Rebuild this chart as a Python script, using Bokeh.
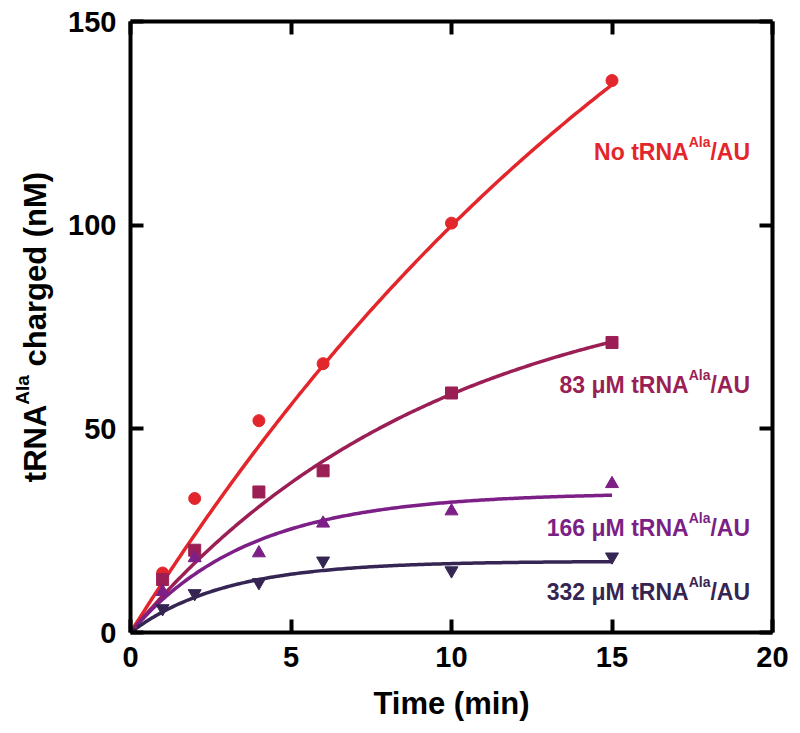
import numpy as np
from bokeh.plotting import figure
from bokeh.layouts import row
from bokeh.models import LinearAxis, FixedTicker, Label, Range1d
from bokeh.embed import file_html
from bokeh.resources import INLINE

# ---- data ----
time_min = [0, 1, 2, 4, 6, 10, 15]
no_trna = [0, 14.6, 32.9, 52.0, 66.0, 100.5, 135.5]
trna_83 = [0, 13.0, 20.2, 34.5, 39.7, 58.8, 71.2]
trna_166 = [0, 10.0, 18.3, 19.5, 26.8, 29.8, 36.5]
trna_332 = [0, 5.9, 9.6, 12.3, 17.6, 15.2, 18.6]

# single-exponential fit parameters (amplitude nM, rate 1/min)
fit_amp = [262.0, 90.0, 34.3, 17.5]
fit_rate = [0.048, 0.105, 0.27, 0.34]
fit_tmax = 15

series_names = ["No tRNA", "83 \u03bcM tRNA", "166 \u03bcM tRNA", "332 \u03bcM tRNA"]
series_colors = ["#e3262b", "#9b1f55", "#7c1f86", "#352553"]
label_y = [118, 60.8, 25.7, 10.0]

x_ticks = [0, 5, 10, 15, 20]
y_ticks = [0, 50, 100, 150]

FONT = "Liberation Sans"

LW = 60            # width of the strip that holds the y-axis title
FW, FH = 642, 611  # plot frame size
ML, MR, MT, MB = 70, 18, 21, 84

y_range = Range1d(0, 150)
p = figure(frame_width=FW, frame_height=FH, output_backend="svg", toolbar_location=None,
           x_range=Range1d(0, 20), y_range=y_range,
           min_border_left=ML, min_border_right=MR, min_border_top=MT, min_border_bottom=MB)
p.outline_line_color = None
p.xgrid.visible = False
p.ygrid.visible = False
p.xaxis.visible = False
p.yaxis.visible = False


def style_axis(ax, labels=True):
    ax.axis_line_width = 4
    ax.axis_line_color = "black"
    ax.major_tick_line_width = 4
    ax.major_tick_line_color = "black"
    ax.major_tick_in = 13
    ax.major_tick_out = 0
    ax.minor_tick_line_color = None
    ax.major_label_text_font = FONT
    ax.major_label_text_font_style = "bold"
    ax.major_label_text_font_size = "29px" if labels else "0px"
    ax.major_label_text_color = "black" if labels else None
    ax.major_label_standoff = 14


bottom = LinearAxis(ticker=FixedTicker(ticks=x_ticks))
style_axis(bottom)
bottom.axis_label = "Time (min)"
bottom.axis_label_text_font = FONT
bottom.axis_label_text_font_style = "bold"
bottom.axis_label_text_font_size = "31px"
bottom.axis_label_text_color = "black"
bottom.axis_label_standoff = 16
p.add_layout(bottom, "below")

left = LinearAxis(ticker=FixedTicker(ticks=y_ticks))
style_axis(left)
p.add_layout(left, "left")

top = LinearAxis(ticker=FixedTicker(ticks=x_ticks))
style_axis(top, labels=False)
p.add_layout(top, "above")

right = LinearAxis(ticker=FixedTicker(ticks=y_ticks))
style_axis(right, labels=False)
p.add_layout(right, "right")

# ---- fit curves ----
tt = np.linspace(0, fit_tmax, 200)
for amp, k, c in zip(fit_amp, fit_rate, series_colors):
    p.line(tt, amp * (1 - np.exp(-k * tt)), line_color=c, line_width=3.5)

# ---- data points ----
p.scatter(time_min, no_trna, marker="circle", size=12, color=series_colors[0])
p.scatter(time_min, trna_83, marker="square", size=12, color=series_colors[1])
p.scatter(time_min, trna_166, marker="triangle", size=13, color=series_colors[2])
p.scatter(time_min, trna_332, marker="inverted_triangle", size=13, color=series_colors[3])

# ---- series labels (right-aligned, with superscript) ----
F = 23
S = 14
w_au = 1.722 * F
w_ala = 1.556 * S
anchor_x = 19.3
for name, c, ly in zip(series_names, series_colors, label_y):
    common = dict(x=anchor_x, y=ly, text_font=FONT, text_font_style="bold",
                  text_color=c, text_align="right", text_baseline="alphabetic")
    p.add_layout(Label(text="/AU", text_font_size=f"{F}px", **common))
    p.add_layout(Label(text="Ala", text_font_size=f"{S}px", x_offset=-w_au, y_offset=0.42 * F, **common))
    p.add_layout(Label(text=name, text_font_size=f"{F}px", x_offset=-w_au - w_ala, **common))

# ---- y-axis title in its own strip, sharing the y range, with superscript ----
q = figure(frame_width=LW, frame_height=FH, output_backend="svg", toolbar_location=None,
           x_range=Range1d(0, LW), y_range=y_range,
           min_border_left=0, min_border_right=0, min_border_top=MT, min_border_bottom=MB)
q.outline_line_color = None
q.xaxis.visible = False
q.yaxis.visible = False
q.xgrid.visible = False
q.ygrid.visible = False

YF = 31
YS = 19
w_trna = 2.499 * YF
w_ala_y = 1.556 * YS
w_space = 0.278 * YF
w_rest = 6.278 * YF
total = w_trna + w_ala_y + w_space + w_rest
start = -total / 2
base_x = 35
ycommon = dict(y=75, angle=np.pi / 2, text_font=FONT, text_font_style="bold",
               text_color="black", text_align="left", text_baseline="alphabetic")
q.add_layout(Label(x=base_x, y_offset=start, text="tRNA", text_font_size=f"{YF}px", **ycommon))
q.add_layout(Label(x=base_x - 0.42 * YF, y_offset=start + w_trna, text="Ala",
                   text_font_size=f"{YS}px", **ycommon))
q.add_layout(Label(x=base_x, y_offset=start + w_trna + w_ala_y + w_space, text="charged (nM)",
                   text_font_size=f"{YF}px", **ycommon))

layout = row(q, p, spacing=0)
open("out.html", "w").write(file_html(layout, INLINE))
